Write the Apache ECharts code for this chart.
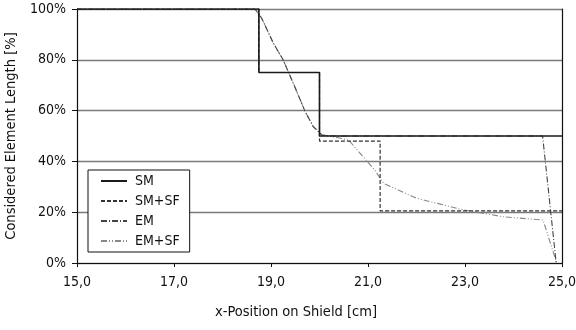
<!DOCTYPE html>
<html><head><meta charset="utf-8">
<script src="https://cdn.jsdelivr.net/npm/echarts@6/dist/echarts.min.js"></script>
<style>html,body{margin:0;padding:0;background:#fff}#c{width:576px;height:330px}</style>
</head><body><div id="c"></div>
<script>
const FONT = 'DejaVu Sans Condensed';
const seriesNames = ['SM', 'SM+SF', 'EM', 'EM+SF'];
const xTicks = [15, 17, 19, 21, 23, 25];
const yTicks = [0, 20, 40, 60, 80, 100];
const smData = [[15,100],[18.75,100],[18.75,75],[20,75],[20,50],[25,50]];
const smsfData = [[15,100],[18.75,100],[18.75,75],[20,75],[20,48],[21.25,48],[21.25,20.5],[25,20.5]];
const emData = [[15,100],[18.67,100],[18.81,96.3],[19.05,86.5],[19.25,80],[19.49,69.4],[19.7,59.8],[19.87,53.7],[20.05,50.4],[20.3,50],[24.6,50],[24.88,0]];
const emsfData = [[15,100],[18.67,100],[18.81,96.3],[19.05,86.5],[19.25,80],[19.49,69.4],[19.7,59.8],[19.87,53.7],[20.05,50.4],[20.39,49.3],[20.6,48.4],[20.87,42.5],[21.14,36.6],[21.32,31.4],[22.0,25.5],[22.97,20.9],[23.79,18.2],[24.61,16.9],[24.89,0]];

const chart = echarts.init(document.getElementById('c'));
const styles = [
  {color:'#1a1a1a', width:1.6, type:'solid'},
  {color:'#333', width:1.2, type:[4,2]},
  {color:'#444', width:1.1, type:[6,2,1,2]},
  {color:'#888', width:1.1, type:[6,2,1,2,1,2]}
];
const datas = [smData, smsfData, emData, emsfData];
chart.setOption({
  animation:false,
  backgroundColor:'#fff',
  textStyle:{fontFamily:FONT},
  title:{text:'x-Position on Shield [cm]', left:210, top:300,
    textStyle:{fontFamily:FONT, fontSize:14.5, fontWeight:'normal', color:'#111'}},
  grid:{left:77, right:14, top:9, bottom:67, containLabel:false, outerBoundsMode:'none'},
  legend:{orient:'vertical', left:88, top:170, width:104,
    itemWidth:26, itemHeight:14, itemGap:6,
    padding:[4,10,4,12],
    itemStyle:{opacity:0},
    backgroundColor:'#fff', borderColor:'#111', borderWidth:1, borderRadius:0,
    textStyle:{fontFamily:FONT, fontSize:14, color:'#111', padding:[0,0,0,3]},
    data:seriesNames},
  xAxis:[{type:'value', min:15, max:25, interval:2,
    axisLine:{show:true, lineStyle:{color:'#111', width:1.2}},
    axisTick:{show:true, length:4, lineStyle:{color:'#111'}},
    axisLabel:{fontFamily:FONT, fontSize:14, color:'#111', margin:12,
      formatter:v=>xTicks.includes(v)?v.toFixed(1).replace('.',','):''},
    splitLine:{show:false}},
    {type:'value', position:'top', min:15, max:25, interval:2,
    axisLine:{show:true, lineStyle:{color:'#111', width:1.2}},
    axisTick:{show:false}, axisLabel:{show:false}, splitLine:{show:false}}],
  yAxis:[{type:'value', min:0, max:100, interval:20,
    name:'Considered Element Length [%]', nameLocation:'middle', nameGap:46,
    nameTextStyle:{fontFamily:FONT, fontSize:14.5, color:'#111'},
    axisLine:{show:true, lineStyle:{color:'#111', width:1.2}},
    axisTick:{show:true, length:5, lineStyle:{color:'#111'}},
    axisLabel:{fontFamily:FONT, fontSize:14, color:'#111', margin:11,
      formatter:v=>yTicks.includes(v)?v+'%':''},
    splitLine:{show:true, lineStyle:{color:'#7a7a7a', width:1.4}}},
    {type:'value', position:'right', min:0, max:100, interval:20,
    axisLine:{show:true, lineStyle:{color:'#111', width:1.2}},
    axisTick:{show:false}, axisLabel:{show:false}, splitLine:{show:false}}],
  series: seriesNames.map((n,i)=>({
    name:n, type:'line', data:datas[i], symbol:'none', showSymbol:false,
    z: 10-i,
    lineStyle:styles[i], itemStyle:{color:styles[i].color}
  }))
});
</script></body></html>
